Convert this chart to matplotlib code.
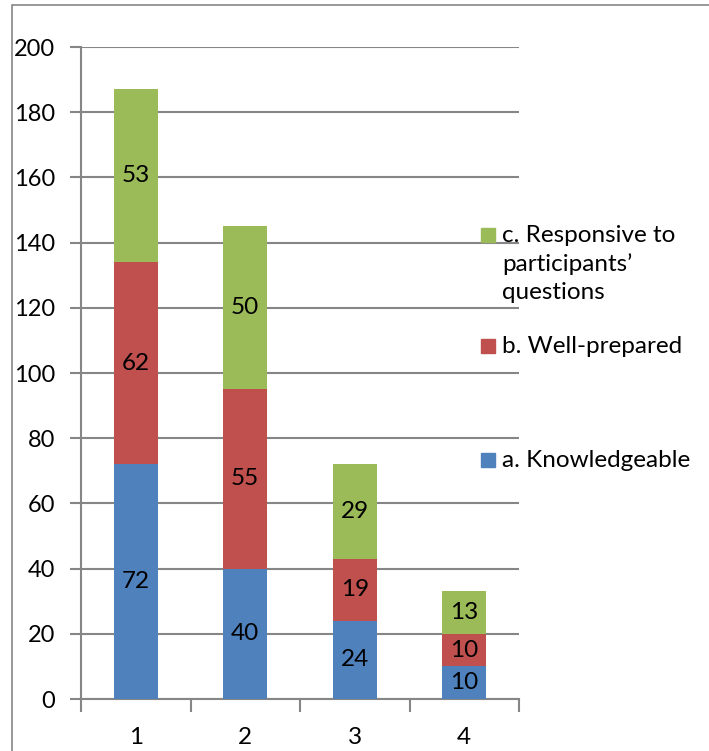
import matplotlib
matplotlib.use('Agg')
import matplotlib.pyplot as plt
from matplotlib.patches import Rectangle
import numpy as np

# Dane z wykresu
categories = ['1', '2', '3', '4']
knowledgeable = [72, 40, 24, 10]
well_prepared = [62, 55, 19, 10]
responsive = [53, 50, 29, 13]
series_labels = ['a. Knowledgeable', 'b. Well-prepared',
                 'c. Responsive to\nparticipants\u2019\nquestions']
y_ticks = [0, 20, 40, 60, 80, 100, 120, 140, 160, 180, 200]

COLORS = ['#4F81BD', '#C0504D', '#9BBB59']
GRID = '#868686'
FONT = 'Lato'
FS = 17.5

plt.rcParams['font.family'] = [FONT, 'DejaVu Sans']

fig = plt.figure(figsize=(7.09, 7.51), dpi=100)
W, H = 709, 751

# ramka wokol wykresu
fig.patches.append(Rectangle((12 / W, -0.1), 1.2, (1 - 5 / H) + 0.1, transform=fig.transFigure,
                             fill=False, edgecolor=GRID, linewidth=1.2))

ax = fig.add_axes([81 / W, 1 - 699 / H, (519 - 81) / W, (699 - 47) / H])
x = np.arange(len(categories))
bottom = np.zeros(len(categories))
for vals, col in zip([knowledgeable, well_prepared, responsive], COLORS):
    bars = ax.bar(x, vals, 0.4, bottom=bottom, color=col, zorder=3)
    ax.bar_label(bars, labels=[str(v) for v in vals], label_type='center', fontsize=FS, color='black')
    bottom += np.array(vals)

ax.set_xlim(-0.5, len(categories) - 0.5)
ax.set_ylim(0, 200)
ax.set_yticks(y_ticks)
ax.set_xticks(x)
ax.set_xticklabels(categories)
ax.set_xticks(np.arange(len(categories) + 1) - 0.5, minor=True)
ax.tick_params(axis='x', which='major', length=0, pad=20, labelsize=FS)
ax.tick_params(axis='x', which='minor', length=9, width=1.5, color=GRID)
ax.tick_params(axis='y', length=8, width=1.5, color=GRID, pad=10.5, labelsize=17)
ax.yaxis.grid(True, color=GRID, linewidth=1.5, zorder=0)
for s in ['top', 'right']:
    ax.spines[s].set_visible(False)
for s in ['left', 'bottom']:
    ax.spines[s].set_color(GRID)
    ax.spines[s].set_linewidth(1.5)
ax.set_axisbelow(True)

# legenda rysowana recznie (jak w Excelu)
legend_y = [460, 346, 235]
for yy, col, lab in zip(legend_y, COLORS, series_labels):
    fig.patches.append(Rectangle((481 / W, 1 - (yy + 7) / H), 14 / W, 14 / H,
                                 transform=fig.transFigure, color=col))
    fig.text(502 / W, 1 - (yy - 10) / H, lab, fontsize=FS, va='top', ha='left',
             linespacing=1.42)

fig.savefig('out.png', dpi=100)
